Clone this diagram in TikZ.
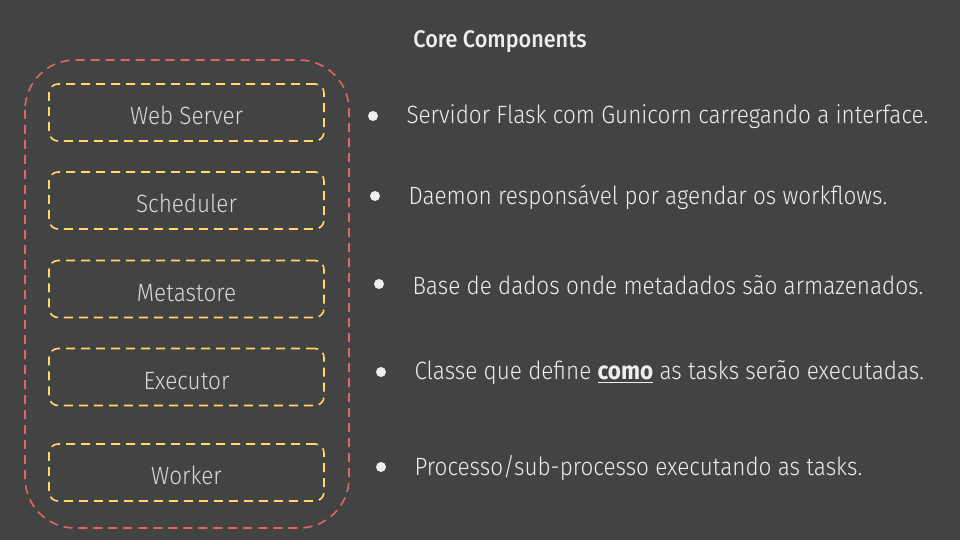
\documentclass[tikz,border=0pt]{standalone}
\usepackage{fontspec}
\setmainfont{Fira Sans Light}[BoldFont={Fira Sans Bold}, FakeStretch=0.9]
\newfontfamily\titlefont{Fira Sans Medium}[FakeStretch=0.9]
\usepackage{tikz}

\definecolor{slidebg}{HTML}{434343}
\definecolor{outerred}{HTML}{E06666}
\definecolor{boxyellow}{HTML}{FFD966}
\definecolor{textgray}{HTML}{EEEEEE}
\definecolor{boxtext}{HTML}{D9D9D9}

\tikzset{
  compbox/.style = {draw = boxyellow, line width = 1.6pt, dash pattern = on 9pt off 6pt,
    rounded corners = 9pt, minimum width = 275pt, minimum height = 57pt,
    text height = 24pt, text depth = 0pt,
    text = boxtext, font = \fontsize{25}{28}\selectfont},
  bulletdot/.style = {circle, fill = textgray, inner sep = 0pt, minimum size = 10pt},
  desc/.style = {anchor = west, text = textgray, font = \fontsize{25}{28}\selectfont}
}

\begin{document}
\begin{tikzpicture}[x = 1pt, y = -1pt]
      \fill [slidebg] (0, 0) rectangle (960, 540);
      \useasboundingbox (0, 0) rectangle (960, 540);
      \node [text = textgray, font = \titlefont\fontsize{24}{28}\selectfont] (title) at (500, 42) {Core Components};
      % outer frame
      \draw [outerred, line width = 1.6pt, dash pattern = on 9pt off 6pt, rounded corners = 50pt]
        (25, 60) rectangle (349, 528);
      % components
      \node [compbox] (web) at (186.5, 112.5) {Web Server};
      \node [compbox] (sched) at (186.5, 200.5) {Scheduler};
      \node [compbox] (meta) at (186.5, 289) {Metastore};
      \node [compbox] (exec) at (186.5, 377) {Executor};
      \node [compbox] (work) at (186.5, 472.5) {Worker};
      % descriptions
      \node [bulletdot] (b1) at (373, 116) {};
      \node [desc] (d1) at (403, 117) {Servidor Flask com Gunicorn carregando a interface.};
      \node [bulletdot] (b2) at (375, 196) {};
      \node [desc] (d2) at (405, 197) {Daemon responsável por agendar os workflows.};
      \node [bulletdot] (b3) at (379, 284) {};
      \node [desc] (d3) at (409, 285) {Base de dados onde metadados são armazenados.};
      \node [bulletdot] (b4) at (381, 372) {};
      \node [desc] (d4) at (411, 373) {Classe que define \underline{\textbf{como}} as tasks serão executadas.};
      \node [bulletdot] (b5) at (381, 467) {};
      \node [desc] (d5) at (411, 468) {Processo/sub-processo executando as tasks.};
    \end{tikzpicture}
\end{document}
